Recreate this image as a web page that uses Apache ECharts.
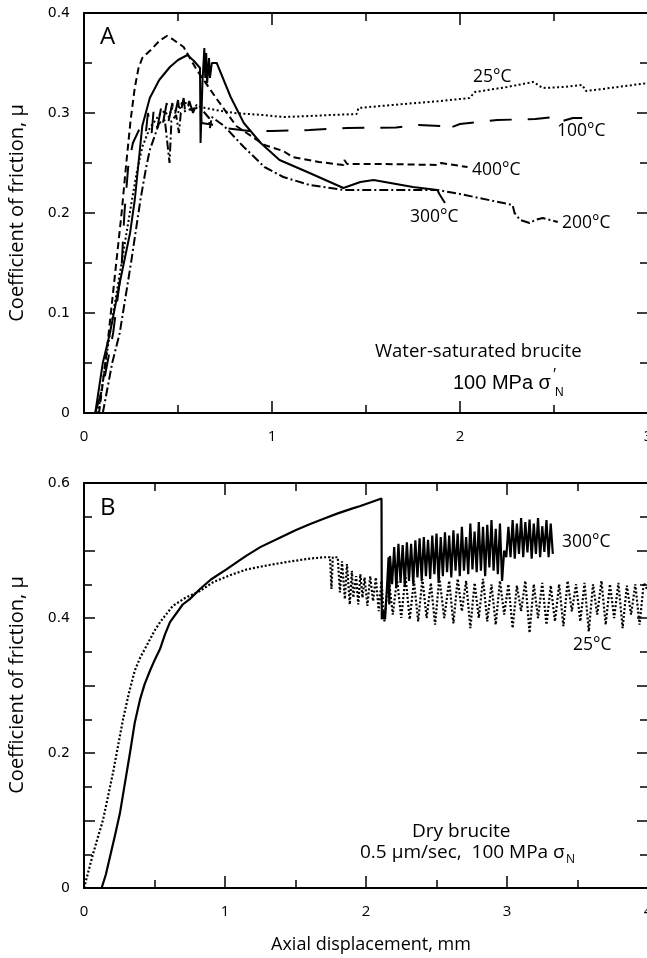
<!DOCTYPE html>
<html><head><meta charset="utf-8">
<script src="https://cdn.jsdelivr.net/npm/echarts@6/dist/echarts.min.js"></script>
<style>html,body{margin:0;padding:0;background:#fff}#c{width:647px;height:958px}</style>
</head><body><div id="c"></div>
<script>
// ---------- Panel A: water-saturated brucite (x: mm, y: mu) ----------
var A_T25 = [[0.075,0],[0.138,0.08],[0.2,0.15],[0.255,0.213],[0.28,0.24],[0.31,0.266],[0.35,0.285],[0.40,0.298],[0.43,0.302],[0.45,0.296],[0.47,0.305],[0.5,0.3],[0.52,0.31],[0.55,0.31],[0.57,0.302],[0.6,0.308],[0.62,0.306],[0.7,0.303],[0.8,0.3],[0.95,0.298],[1.06,0.296],[1.2,0.297],[1.31,0.298],[1.45,0.299],[1.46,0.305],[1.7,0.309],[1.9,0.312],[2.05,0.315],[2.08,0.321],[2.25,0.326],[2.39,0.331],[2.44,0.325],[2.55,0.326],[2.65,0.328],[2.67,0.322],[2.8,0.325],[3.0,0.33]];
var A_T100 = [[0.06,0],[0.1,0.026],[0.155,0.08],[0.2,0.146],[0.215,0.2],[0.235,0.246],[0.26,0.27],[0.31,0.29],[0.33,0.282],[0.34,0.3],[0.36,0.28],[0.37,0.302],[0.39,0.285],[0.41,0.305],[0.42,0.29],[0.44,0.31],[0.45,0.292],[0.47,0.31],[0.48,0.295],[0.5,0.313],[0.51,0.297],[0.53,0.315],[0.54,0.298],[0.56,0.312],[0.58,0.3],[0.6,0.31],[0.62,0.303],[0.625,0.29],[0.7,0.288],[0.75,0.285],[0.88,0.282],[1.0,0.282],[1.2,0.283],[1.4,0.285],[1.66,0.2855],[1.78,0.288],[1.91,0.287],[1.915,0.283],[2.0,0.289],[2.2,0.293],[2.4,0.294],[2.5,0.296],[2.53,0.291],[2.6,0.295],[2.65,0.295]];
var A_T200 = [[0.1,0],[0.15,0.05],[0.19,0.08],[0.25,0.15],[0.3,0.213],[0.33,0.245],[0.35,0.263],[0.4,0.29],[0.43,0.293],[0.455,0.25],[0.465,0.292],[0.49,0.298],[0.505,0.28],[0.515,0.3],[0.55,0.303],[0.6,0.305],[0.62,0.305],[0.665,0.295],[0.67,0.285],[0.68,0.296],[0.745,0.287],[0.85,0.266],[0.96,0.246],[1.06,0.236],[1.2,0.228],[1.38,0.223],[1.6,0.223],[1.88,0.223],[2.0,0.219],[2.28,0.208],[2.29,0.2],[2.32,0.193],[2.37,0.19],[2.4,0.193],[2.44,0.195],[2.48,0.193],[2.52,0.191]];
var A_T300 = [[0.06,0],[0.1,0.05],[0.138,0.08],[0.19,0.13],[0.245,0.18],[0.27,0.213],[0.29,0.25],[0.31,0.287],[0.35,0.315],[0.4,0.333],[0.457,0.346],[0.5,0.353],[0.55,0.358],[0.585,0.352],[0.617,0.345],[0.62,0.27],[0.63,0.33],[0.64,0.365],[0.645,0.335],[0.65,0.36],[0.655,0.33],[0.665,0.355],[0.67,0.335],[0.68,0.35],[0.706,0.35],[0.78,0.316],[0.85,0.29],[0.94,0.27],[1.04,0.253],[1.2,0.24],[1.38,0.225],[1.47,0.231],[1.54,0.233],[1.6,0.231],[1.66,0.229],[1.75,0.226],[1.88,0.223],[1.89,0.219],[1.92,0.21]];
var A_T400 = [[0.08,0],[0.12,0.06],[0.16,0.13],[0.2,0.2],[0.225,0.25],[0.248,0.293],[0.27,0.325],[0.29,0.345],[0.31,0.355],[0.355,0.363],[0.4,0.372],[0.44,0.377],[0.47,0.374],[0.53,0.366],[0.6,0.343],[0.71,0.313],[0.81,0.287],[0.96,0.268],[1.06,0.262],[1.11,0.256],[1.25,0.251],[1.38,0.248],[1.385,0.253],[1.4,0.249],[1.6,0.249],[1.88,0.248],[1.9,0.25],[1.97,0.248],[2.04,0.246]];

// ---------- Panel B: dry brucite ----------
var B_T25 = [[0,0],[0.066,0.052],[0.135,0.101],[0.206,0.171],[0.277,0.25],[0.32,0.29],[0.36,0.322],[0.4,0.342],[0.447,0.36],[0.5,0.381],[0.54,0.394],[0.63,0.418],[0.72,0.43],[0.823,0.44],[0.915,0.453],[1.03,0.463],[1.155,0.472],[1.3,0.478],[1.44,0.483],[1.6,0.488],[1.7,0.49],[1.745,0.49],[1.755,0.443],[1.765,0.49],[1.80,0.49],[1.815,0.438],[1.83,0.484],[1.85,0.428],[1.865,0.48],[1.885,0.42],[1.9,0.47],[1.91,0.43],[1.93,0.462],[1.945,0.42],[1.96,0.465],[1.975,0.43],[1.99,0.46],[2.01,0.418],[2.03,0.462],[2.05,0.425],[2.07,0.46],[2.09,0.41],[2.11,0.455],[2.13,0.395],[2.16,0.46],[2.19,0.405],[2.22,0.458],[2.25,0.4],[2.28,0.462],[2.31,0.398],[2.34,0.455],[2.37,0.395],[2.40,0.458],[2.43,0.40],[2.46,0.452],[2.49,0.39],[2.52,0.46],[2.555,0.40],[2.59,0.455],[2.62,0.392],[2.65,0.458],[2.68,0.41],[2.71,0.455],[2.74,0.385],[2.77,0.452],[2.80,0.40],[2.83,0.458],[2.86,0.395],[2.89,0.45],[2.92,0.39],[2.95,0.455],[2.98,0.405],[3.01,0.45],[3.04,0.385],[3.07,0.448],[3.10,0.41],[3.13,0.455],[3.16,0.378],[3.19,0.45],[3.22,0.40],[3.25,0.452],[3.28,0.39],[3.31,0.448],[3.34,0.395],[3.37,0.45],[3.40,0.388],[3.43,0.455],[3.46,0.41],[3.49,0.45],[3.52,0.395],[3.55,0.452],[3.58,0.38],[3.61,0.45],[3.64,0.405],[3.67,0.455],[3.70,0.39],[3.73,0.45],[3.76,0.40],[3.79,0.452],[3.82,0.385],[3.85,0.448],[3.88,0.405],[3.91,0.45],[3.94,0.39],[3.97,0.452],[4.0,0.44]];
var B_T300 = [[0.125,0],[0.155,0.02],[0.184,0.046],[0.22,0.078],[0.255,0.111],[0.29,0.155],[0.326,0.2],[0.36,0.245],[0.397,0.279],[0.43,0.302],[0.47,0.323],[0.504,0.339],[0.539,0.354],[0.575,0.376],[0.61,0.394],[0.7,0.42],[0.75,0.428],[0.823,0.443],[0.9,0.457],[1.01,0.472],[1.1,0.485],[1.15,0.492],[1.25,0.505],[1.4,0.52],[1.5,0.53],[1.6,0.539],[1.7,0.547],[1.8,0.555],[1.9,0.562],[1.96,0.566],[2.03,0.571],[2.11,0.577],[2.112,0.398],[2.125,0.41],[2.135,0.398],[2.15,0.45],[2.16,0.49],[2.165,0.42],[2.17,0.492],[2.185,0.45],[2.20,0.505],[2.215,0.445],[2.23,0.51],[2.245,0.452],[2.26,0.508],[2.275,0.448],[2.29,0.512],[2.305,0.455],[2.32,0.51],[2.335,0.45],[2.35,0.515],[2.365,0.46],[2.38,0.518],[2.395,0.455],[2.41,0.52],[2.425,0.462],[2.44,0.516],[2.455,0.458],[2.47,0.522],[2.485,0.465],[2.50,0.525],[2.515,0.452],[2.53,0.52],[2.545,0.462],[2.56,0.527],[2.575,0.468],[2.59,0.522],[2.605,0.46],[2.62,0.53],[2.635,0.47],[2.65,0.525],[2.665,0.462],[2.68,0.535],[2.695,0.47],[2.71,0.52],[2.725,0.465],[2.74,0.54],[2.755,0.472],[2.77,0.528],[2.785,0.468],[2.80,0.542],[2.815,0.47],[2.83,0.535],[2.845,0.462],[2.86,0.538],[2.875,0.475],[2.89,0.545],[2.905,0.47],[2.92,0.532],[2.935,0.465],[2.95,0.54],[2.965,0.455],[2.98,0.5],[2.995,0.49],[3.01,0.535],[3.025,0.49],[3.04,0.545],[3.055,0.488],[3.07,0.54],[3.085,0.495],[3.10,0.548],[3.115,0.49],[3.13,0.542],[3.145,0.497],[3.16,0.546],[3.175,0.488],[3.19,0.54],[3.205,0.495],[3.22,0.548],[3.235,0.49],[3.25,0.536],[3.265,0.498],[3.28,0.545],[3.295,0.49],[3.31,0.54],[3.325,0.495]];

var A_XTICKS = [0, 1, 2, 3];
var B_XTICKS = [0, 1, 2, 3, 4];
var A_YTICKS = [0, 0.1, 0.2, 0.3, 0.4];
var B_YTICKS = [0, 0.2, 0.4, 0.6];

var TXT = 'Open Sans, Noto Sans, sans-serif';
var NUM = 'DejaVu Sans, sans-serif';
var ARIAL = 'Liberation Sans, Arial, sans-serif';
var BLACK = '#000';

function xAx(grid, max, pos, showLabel) {
  return {type:'value', gridIndex:grid, min:0, max:max, interval:1, position:pos,
    axisLine:{show:true, onZero:false, lineStyle:{color:BLACK, width:2}},
    axisTick:{show:true, inside:true, length:12, lineStyle:{color:BLACK, width:1.5}},
    minorTick:{show:true, splitNumber:2, length:8, lineStyle:{color:BLACK, width:1.5}},
    splitLine:{show:false}, minorSplitLine:{show:false},
    axisLabel:{show:showLabel, margin:16, color:BLACK, fontSize:15, fontFamily:TXT}};
}
function yAx(grid, max, pos, showLabel, ticks) {
  return {type:'value', gridIndex:grid, min:0, max:max, interval:0.1, position:pos,
    axisLine:{show:true, onZero:false, lineStyle:{color:BLACK, width:2}},
    axisTick:{show:true, inside:true, length:11, lineStyle:{color:BLACK, width:1.5}},
    minorTick:{show:true, splitNumber:2, length:8, lineStyle:{color:BLACK, width:1.5}},
    splitLine:{show:false}, minorSplitLine:{show:false},
    axisLabel:{show:showLabel, margin:14, color:BLACK, fontSize:14, fontFamily:NUM,
      formatter:function(v){ for (var i=0;i<ticks.length;i++){ if (Math.abs(ticks[i]-v)<1e-6) return String(ticks[i]); } return ''; }}};
}
function line(data, xi, yi, type, width) {
  return {type:'line', data:data, xAxisIndex:xi, yAxisIndex:yi, showSymbol:false, symbol:'none',
    animation:false, silent:true, clip:true,
    lineStyle:{color:BLACK, width:width, type:type, cap:'butt', join:'bevel'}};
}
function t(x, y, text, size, fam, extra) {
  var s = {text:text, fill:BLACK, font: size+'px '+(fam||TXT), textVerticalAlign:'middle'};
  var el = {type:'text', x:x, y:y, style:s, silent:true};
  if (extra) for (var k in extra) el[k]=extra[k];
  return el;
}

var chart = echarts.init(document.getElementById('c'), null, {renderer:'canvas'});
chart.setOption({
  animation:false,
  backgroundColor:'#fff',
  grid:[{left:84, top:13, width:564, height:400, outerBoundsMode:'none', containLabel:false},
        {left:84, top:483, width:564, height:405, outerBoundsMode:'none', containLabel:false}],
  xAxis:[xAx(0,3,'bottom',true), xAx(0,3,'top',false), xAx(1,4,'bottom',true), xAx(1,4,'top',false)],
  yAxis:[yAx(0,0.4,'left',true,A_YTICKS), yAx(0,0.4,'right',false,A_YTICKS), yAx(1,0.6,'left',true,B_YTICKS), yAx(1,0.6,'right',false,B_YTICKS)],
  series:[
    line(A_T25,0,0,[2,2.5],2),
    line(A_T100,0,0,[22,16],2),
    line(A_T200,0,0,[9,3,2,3],2),
    line(A_T300,0,0,'solid',2),
    line(A_T400,0,0,[7,4],2),
    line(B_T25,2,2,[2,2],2.2),
    line(B_T300,2,2,'solid',2.2)
  ],
  graphic:[
    t(100,37,'A',24),
    t(100,508,'B',24),
    t(473,77,'25°C',17.5),
    t(557,131,'100°C',17.5),
    t(472,170,'400°C',17.5),
    t(410,217,'300°C',17.5),
    t(562,223,'200°C',17.5),
    t(375,352,'Water-saturated brucite',18.5),
    t(453,383,'100 MPa σ',20,ARIAL),
    t(553,376,'′',16,ARIAL),
    t(555,393,'N',12,ARIAL),
    t(562,542,'300°C',17.5),
    t(573,645,'25°C',17.5),
    t(412,832,'Dry brucite',19),
    t(360,853,'0.5 μm/sec,  100 MPa σ',19),
    t(566,860,'N',12),
    t(17,213,'Coefficient of friction, μ',20,TXT,{rotation:Math.PI/2, style:{text:'Coefficient of friction, μ', fill:BLACK, font:'20px '+TXT, textAlign:'center', textVerticalAlign:'middle'}}),
    t(17,685,'Coefficient of friction, μ',20,TXT,{rotation:Math.PI/2, style:{text:'Coefficient of friction, μ', fill:BLACK, font:'20px '+TXT, textAlign:'center', textVerticalAlign:'middle'}}),
    t(371,945,'Axial displacement, mm',18,TXT,{style:{text:'Axial displacement, mm', fill:BLACK, font:'18px '+TXT, textAlign:'center', textVerticalAlign:'middle'}})
  ]
});
</script></body></html>
